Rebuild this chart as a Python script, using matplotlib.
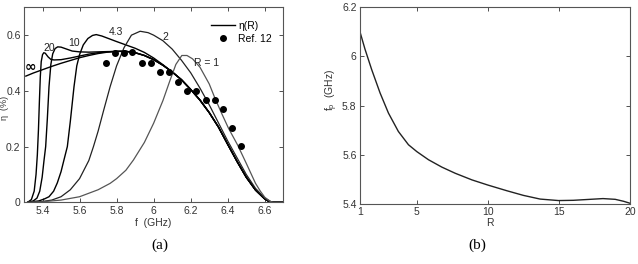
import numpy as np
import matplotlib
matplotlib.use("Agg")
import matplotlib.pyplot as plt

plt.rcParams['font.family'] = ['Liberation Sans', 'DejaVu Sans']

# ---- panel (a): efficiency vs frequency ----
# shared falling tail (several curves lie on top of each other here)
f_tail = [5.8, 5.85, 5.9, 5.95, 6.0, 6.05, 6.1, 6.15, 6.2, 6.25, 6.3, 6.35,
          6.4, 6.45, 6.5, 6.55, 6.6, 6.63, 6.7]
eta_tail = [0.542, 0.542, 0.537, 0.527, 0.512, 0.492, 0.468, 0.44, 0.405, 0.367,
            0.322, 0.27, 0.208, 0.147, 0.09, 0.044, 0.012, 0.0, 0.0]

f_inf = [5.31, 5.35, 5.4, 5.45, 5.5, 5.55, 5.6, 5.65, 5.7, 5.75]
eta_inf = [0.453, 0.464, 0.476, 0.488, 0.499, 0.509, 0.519, 0.527, 0.534, 0.539]

f_20 = [5.32, 5.34, 5.355, 5.365, 5.372, 5.378, 5.383, 5.388, 5.393, 5.4, 5.407,
        5.415, 5.43, 5.445, 5.462, 5.5, 5.55, 5.6, 5.65, 5.7, 5.75]
eta_20 = [0.0, 0.01, 0.04, 0.1, 0.17, 0.26, 0.36, 0.45, 0.505, 0.53, 0.537,
          0.535, 0.522, 0.513, 0.511, 0.512, 0.518, 0.525, 0.532, 0.537, 0.54]

f_10 = [5.32, 5.35, 5.37, 5.385, 5.398, 5.408, 5.417, 5.426, 5.435, 5.445, 5.455,
        5.468, 5.482, 5.5, 5.53, 5.56, 5.6, 5.65, 5.7, 5.75]
eta_10 = [0.0, 0.005, 0.015, 0.04, 0.09, 0.15, 0.2, 0.3, 0.415, 0.495, 0.533,
          0.552, 0.558, 0.557, 0.55, 0.543, 0.54, 0.539, 0.54, 0.541]

f_43 = [5.32, 5.38, 5.41, 5.435, 5.46, 5.48, 5.5, 5.515, 5.534, 5.55, 5.57, 5.585,
        5.6, 5.62, 5.645, 5.67, 5.69, 5.72, 5.76, 5.8, 5.85, 5.9, 5.95, 6.0, 6.05]
eta_43 = [0.0, 0.005, 0.012, 0.02, 0.04, 0.07, 0.11, 0.15, 0.2, 0.29, 0.415, 0.49,
          0.53, 0.565, 0.588, 0.599, 0.602, 0.597, 0.587, 0.577, 0.565, 0.553,
          0.538, 0.518, 0.494]

f_2 = [5.32, 5.4, 5.45, 5.5, 5.55, 5.6, 5.65, 5.675, 5.7, 5.73, 5.765, 5.8, 5.84,
       5.88, 5.927, 5.97, 6.0, 6.05, 6.1, 6.15, 6.2, 6.25, 6.3, 6.35, 6.4, 6.45,
       6.5, 6.55, 6.6, 6.64, 6.7]
eta_2 = [0.0, 0.003, 0.008, 0.02, 0.045, 0.085, 0.15, 0.2, 0.255, 0.33, 0.415,
         0.49, 0.555, 0.6, 0.614, 0.609, 0.6, 0.58, 0.55, 0.51, 0.465, 0.41, 0.35,
         0.285, 0.22, 0.16, 0.1, 0.05, 0.015, 0.0, 0.0]

f_1 = [5.32, 5.4, 5.5, 5.6, 5.7, 5.765, 5.8, 5.85, 5.891, 5.95, 6.0, 6.05, 6.089,
       6.12, 6.152, 6.18, 6.21, 6.25, 6.3, 6.332, 6.37, 6.404, 6.453, 6.5, 6.55,
       6.576, 6.6, 6.63, 6.645, 6.7]
eta_1 = [0.0, 0.002, 0.008, 0.02, 0.045, 0.068, 0.085, 0.115, 0.152, 0.215,
         0.284, 0.365, 0.439, 0.495, 0.527, 0.527, 0.515, 0.485, 0.425, 0.372,
         0.315, 0.266, 0.206, 0.14, 0.068, 0.04, 0.018, 0.003, 0.0, 0.0]

f_ref = [5.745, 5.79, 5.84, 5.885, 5.935, 5.985, 6.035, 6.085, 6.13, 6.18, 6.23,
         6.28, 6.33, 6.375, 6.425, 6.47]
eta_ref = [0.501, 0.535, 0.535, 0.539, 0.501, 0.501, 0.469, 0.469, 0.433, 0.401,
           0.401, 0.367, 0.367, 0.334, 0.266, 0.203]

curve_labels = ["\u221e", "20", "10", "4.3", "2", "R = 1"]
label_f = [5.336, 5.437, 5.57, 5.797, 6.062, 6.288]
label_eta = [0.487, 0.553, 0.571, 0.610, 0.595, 0.501]

# ---- panel (b): peak frequency vs R ----
R = [1, 1.35, 1.82, 2.41, 3.0, 3.7, 4.41, 5.0, 5.82, 6.76, 7.7, 8.88, 10.0,
     11.33, 12.5, 13.68, 14.97, 16.0, 17.2, 18.1, 18.96, 19.55, 20]
fp = [6.10, 6.03, 5.947, 5.852, 5.77, 5.695, 5.641, 5.613, 5.58, 5.55, 5.525,
      5.498, 5.477, 5.454, 5.435, 5.42, 5.414, 5.415, 5.419, 5.422, 5.419,
      5.411, 5.403]

W, H = 638, 264
fig = plt.figure(figsize=(W / 100, H / 100), dpi=100)
ax1 = fig.add_axes([24 / W, (H - 202.3) / H, 259.3 / W, 195 / H])
ax2 = fig.add_axes([360 / W, (H - 204) / H, 270 / W, 196.7 / H])

tail_f = np.array(f_tail)
tail_eta = np.array(eta_tail)
ax1.plot(np.r_[f_inf, tail_f], np.r_[eta_inf, tail_eta], color='black', lw=1.0)
ax1.plot(np.r_[f_20, tail_f], np.r_[eta_20, tail_eta], color='black', lw=1.0)
ax1.plot(np.r_[f_10, tail_f[1:]], np.r_[eta_10, tail_eta[1:]], color='black', lw=1.0)
ax1.plot(np.r_[f_43, tail_f[6:]], np.r_[eta_43, tail_eta[6:]], color='black', lw=1.0,
         label="\u03b7(R)")
ax1.plot(f_2, eta_2, color='#222222', lw=0.9)
ax1.plot(f_1, eta_1, color='#555555', lw=0.9)
ax1.plot(f_ref, eta_ref, 'o', color='black', ms=4.0, label="Ref. 12")

for txt, x, y in zip(curve_labels, label_f, label_eta):
    if txt == "\u221e":
        ax1.text(x, y, txt, fontsize=10, fontweight='bold', ha='center', va='center',
                 family=['DejaVu Sans'])
    else:
        ax1.text(x, y, txt, fontsize=7.5, ha='center', va='center', color='#222222')

ax1.set_xlim(5.3, 6.7)
ax1.set_ylim(0, 0.7)
ax1.set_xticks([5.4, 5.6, 5.8, 6.0, 6.2, 6.4, 6.6])
ax1.set_xticklabels(["5.4", "5.6", "5.8", "6", "6.2", "6.4", "6.6"])
ax1.set_yticks([0, 0.2, 0.4, 0.6])
ax1.set_yticklabels(["0", "0.2", "0.4", "0.6"])
ax1.legend(loc='upper left', bbox_to_anchor=(0.72, 0.93), frameon=False,
           fontsize=7.5, handlelength=2.3, handletextpad=0.35, labelspacing=0.25,
           borderpad=0, borderaxespad=0, numpoints=1)

ax2.plot(R, fp, color='#222222', lw=1.0)
ax2.set_xlim(1, 20)
ax2.set_ylim(5.4, 6.2)
ax2.set_xticks([1, 5, 10, 15, 20])
ax2.set_yticks([5.4, 5.6, 5.8, 6.0, 6.2])
ax2.set_yticklabels(["5.4", "5.6", "5.8", "6", "6.2"])

for ax in (ax1, ax2):
    ax.tick_params(direction='in', top=True, right=True, length=3, width=0.6,
                   labelsize=7.5, colors='#333333', pad=2.5)
    for sp in ax.spines.values():
        sp.set_color('#555555')
        sp.set_linewidth(0.8)

fig.text(153 / W, 1 - 223 / H, "f  (GHz)", fontsize=7.5, ha='center', va='center',
         color='#333333')
fig.text(4.5 / W, 1 - 108 / H, "\u03b7  (%)", fontsize=6.5, ha='center', va='center',
         rotation=90, color='#333333')
fig.text(490 / W, 1 - 223 / H, "R", fontsize=7.5, ha='center', va='center',
         color='#333333')
fig.text(332 / W, 1 - 90 / H, "f$_\\mathregular{p}$  (GHz)", fontsize=7.5,
         ha='center', va='center', rotation=90, color='#333333')

fig.text(160 / W, 1 - 245 / H, "(a)", fontsize=11, ha='center', va='center',
         family=['Liberation Serif'])
fig.text(477 / W, 1 - 245 / H, "(b)", fontsize=11, ha='center', va='center',
         family=['Liberation Serif'])

fig.savefig("out.png", dpi=100)
